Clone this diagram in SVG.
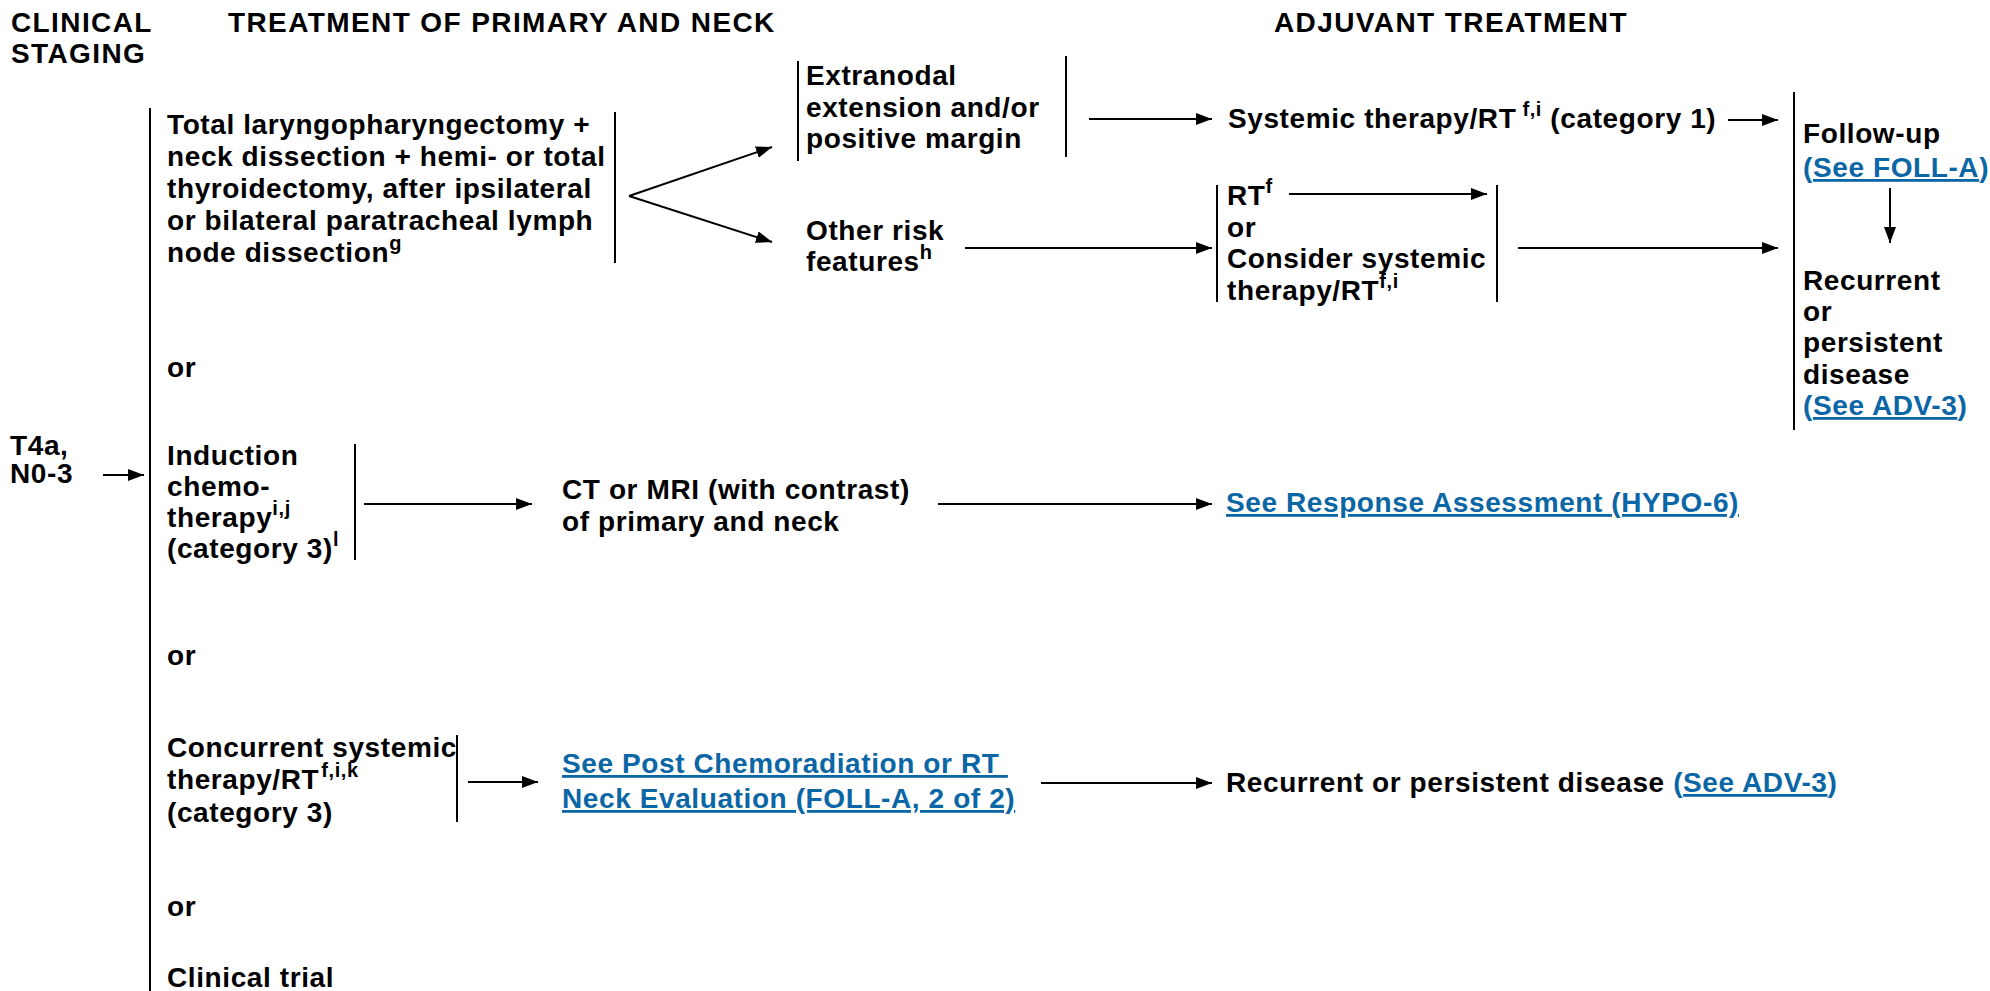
<svg xmlns="http://www.w3.org/2000/svg" width="1990" height="991" viewBox="0 0 1990 991">
  <style>
    .t { font-family: "Liberation Sans", Arial, Helvetica, sans-serif; font-weight: bold; font-size: 28px; letter-spacing: 0.6px; fill: #000; }
    .h { font-size: 28px; letter-spacing: 1.4px; }
    .sup { font-size: 20px; }
    .lnk { fill: #0b66a6; }
    .u { text-decoration: underline; }
    .ln { stroke: #000; stroke-width: 2; fill: none; }
    .arr { stroke: #000; stroke-width: 2; fill: none; marker-end: url(#ah); }
  </style>
  <defs>
    <marker id="ah" viewBox="0 0 16 12" refX="16" refY="6" markerWidth="16" markerHeight="12" markerUnits="userSpaceOnUse" orient="auto">
      <path d="M0,0 L16,6 L0,12 z" fill="#000"/>
    </marker>
  </defs>
  <rect width="1990" height="991" fill="#fff"/>

  <!-- column headings -->
  <g id="headings">
    <text class="t h" x="11" y="32">CLINICAL</text>
    <text class="t h" x="11" y="63">STAGING</text>
    <text class="t h" x="228" y="32">TREATMENT OF PRIMARY AND NECK</text>
    <text class="t h" x="1274" y="32">ADJUVANT TREATMENT</text>
  </g>

  <!-- staging -->
  <g id="stage">
    <text class="t" x="10" y="455">T4a,</text>
    <text class="t" x="10" y="483">N0-3</text>
  </g>

  <!-- primary treatment options, grouped on the trunk line -->
  <g id="surgery">
    <text class="t" x="167" y="134">Total laryngopharyngectomy +</text>
    <text class="t" x="167" y="166">neck dissection + hemi- or total</text>
    <text class="t" x="167" y="198">thyroidectomy, after ipsilateral</text>
    <text class="t" x="167" y="230">or bilateral paratracheal lymph</text>
    <text class="t" x="167" y="262">node dissection<tspan class="sup" dy="-12">g</tspan></text>
    <line class="ln" x1="615" y1="112" x2="615" y2="263"/>
  </g>

  <g id="or-1"><text class="t" x="167" y="377">or</text></g>

  <g id="induction">
    <text class="t" x="167" y="465">Induction</text>
    <text class="t" x="167" y="496">chemo-</text>
    <text class="t" x="167" y="527">therapy<tspan class="sup" dy="-12">i,j</tspan></text>
    <text class="t" x="167" y="558">(category 3)<tspan class="sup" dy="-12">l</tspan></text>
    <line class="ln" x1="355" y1="444" x2="355" y2="560"/>
  </g>

  <g id="or-2"><text class="t" x="167" y="665">or</text></g>

  <g id="concurrent">
    <text class="t" x="167" y="757">Concurrent systemic</text>
    <text class="t" x="167" y="789">therapy/RT<tspan class="sup" dx="2" dy="-12">f,i,k</tspan></text>
    <text class="t" x="167" y="822">(category 3)</text>
    <line class="ln" x1="457" y1="735" x2="457" y2="822"/>
  </g>

  <g id="or-3"><text class="t" x="167" y="916">or</text></g>
  <g id="trial"><text class="t" x="167" y="987">Clinical trial</text></g>

  <!-- pathology findings -->
  <g id="extranodal">
    <line class="ln" x1="798" y1="61" x2="798" y2="161"/>
    <text class="t" x="806" y="85">Extranodal</text>
    <text class="t" x="806" y="117">extension and/or</text>
    <text class="t" x="806" y="148">positive margin</text>
    <line class="ln" x1="1066" y1="56" x2="1066" y2="157"/>
  </g>

  <g id="other-risk">
    <text class="t" x="806" y="240">Other risk</text>
    <text class="t" x="806" y="271">features<tspan class="sup" dy="-12">h</tspan></text>
  </g>

  <!-- adjuvant options -->
  <g id="systemic-rt">
    <text class="t" x="1228" y="128">Systemic therapy/RT<tspan class="sup" dx="6" dy="-12">f,i</tspan><tspan dy="12"> (category 1)</tspan></text>
  </g>

  <g id="rt-options">
    <line class="ln" x1="1217" y1="185" x2="1217" y2="302"/>
    <text class="t" x="1227" y="205">RT<tspan class="sup" dy="-12">f</tspan></text>
    <text class="t" x="1227" y="237">or</text>
    <text class="t" x="1227" y="268">Consider systemic</text>
    <text class="t" x="1227" y="300">therapy/RT<tspan class="sup" dy="-12">f,i</tspan></text>
    <line class="ln" x1="1497" y1="185" x2="1497" y2="302"/>
  </g>

  <g id="follow-up">
    <line class="ln" x1="1794" y1="92" x2="1794" y2="430"/>
    <text class="t" x="1803" y="143">Follow-up</text>
    <text class="t lnk" x="1803" y="177">(<tspan class="u">See FOLL-A</tspan>)</text>
    <text class="t" x="1803" y="290">Recurrent</text>
    <text class="t" x="1803" y="321">or</text>
    <text class="t" x="1803" y="352">persistent</text>
    <text class="t" x="1803" y="384">disease</text>
    <text class="t lnk" x="1803" y="415">(<tspan class="u">See ADV-3</tspan>)</text>
  </g>

  <!-- imaging after induction -->
  <g id="imaging">
    <text class="t" x="562" y="499">CT or MRI (with contrast)</text>
    <text class="t" x="562" y="531">of primary and neck</text>
  </g>

  <g id="response">
    <text class="t lnk u" x="1226" y="512">See Response Assessment (HYPO-6)</text>
  </g>

  <g id="neck-eval">
    <text class="t lnk u" x="562" y="773" style="white-space:pre">See Post Chemoradiation or RT </text>
    <text class="t lnk u" x="562" y="808">Neck Evaluation (FOLL-A, 2 of 2)</text>
  </g>

  <g id="recurrent">
    <text class="t" x="1226" y="792">Recurrent or persistent disease <tspan class="lnk">(<tspan class="u">See ADV-3</tspan>)</tspan></text>
  </g>

  <!-- connectors -->
  <g id="connectors">
    <line class="ln" x1="150" y1="108" x2="150" y2="991"/>
    <line class="arr" x1="103" y1="475" x2="144" y2="475"/>
    <line class="arr" x1="629" y1="196" x2="772" y2="147"/>
    <line class="arr" x1="629" y1="196" x2="772" y2="242"/>
    <line class="arr" x1="1089" y1="119" x2="1212" y2="119"/>
    <line class="arr" x1="1728" y1="120" x2="1778" y2="120"/>
    <line class="arr" x1="965" y1="248" x2="1212" y2="248"/>
    <line class="arr" x1="1289" y1="194" x2="1487" y2="194"/>
    <line class="arr" x1="1518" y1="248" x2="1778" y2="248"/>
    <line class="arr" x1="1890" y1="188" x2="1890" y2="243"/>
    <line class="arr" x1="364" y1="504" x2="532" y2="504"/>
    <line class="arr" x1="938" y1="504" x2="1212" y2="504"/>
    <line class="arr" x1="468" y1="782" x2="538" y2="782"/>
    <line class="arr" x1="1041" y1="783" x2="1212" y2="783"/>
  </g>
</svg>
